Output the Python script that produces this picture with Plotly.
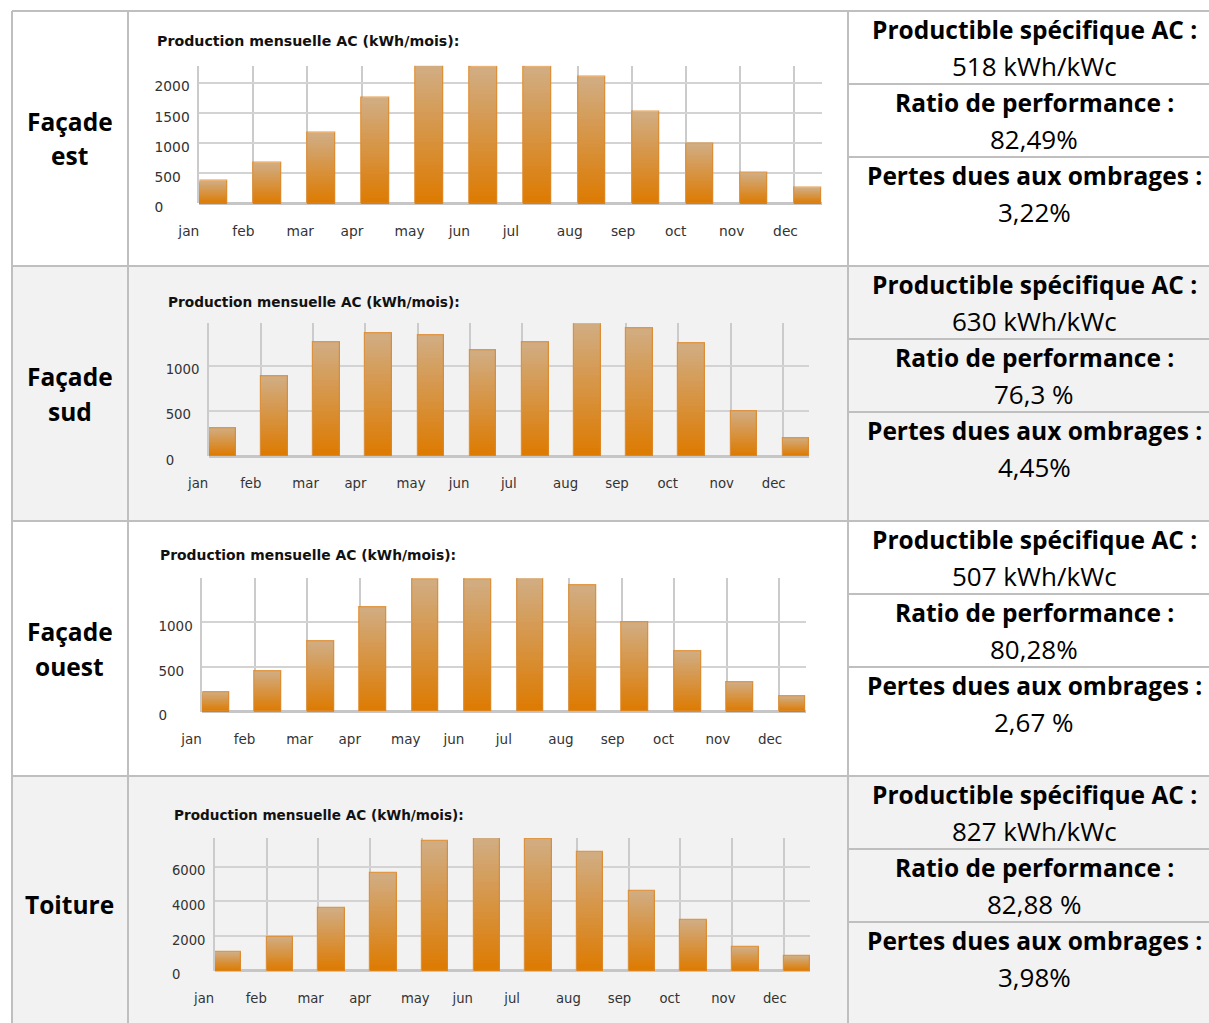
import plotly.graph_objects as go

# Canvas size in pixels
W, H = 1209, 1023

# ---------------------------------------------------------------- data
months = ["jan", "feb", "mar", "apr", "may", "jun",
          "jul", "aug", "sep", "oct", "nov", "dec"]

prod_est = [374, 672, 1169, 1748, 2280, 2257, 2268, 2096, 1523, 993, 507, 258]
prod_sud = [312, 880, 1258, 1358, 1336, 1170, 1258, 1468, 1416, 1244, 500, 199]
prod_ouest = [222, 448, 785, 1170, 1481, 1474, 1489, 1408, 1000, 674, 327, 167]
prod_toiture = [1073, 1954, 3602, 5613, 7471, 7644, 7586, 6820, 4617, 2893, 1341, 824]

yticks_est = [0, 500, 1000, 1500, 2000]
yticks_sud = [0, 500, 1000]
yticks_ouest = [0, 500, 1000]
yticks_toiture = [0, 2000, 4000, 6000]

row_labels = ["Façade<br>est", "Façade<br>sud", "Façade<br>ouest", "Toiture"]
productible = ["518 kWh/kWc", "630 kWh/kWc", "507 kWh/kWc", "827 kWh/kWc"]
ratio_perf = ["82,49%", "76,3 %", "80,28%", "82,88 %"]
pertes_ombrage = ["3,22%", "4,45%", "2,67 %", "3,98%"]

chart_title = "Production mensuelle AC (kWh/mois):"

# ---------------------------------------------------------------- layout geometry (pixels)
ROW_TOPS = [11, 266, 521, 776]
ROW_H = 255
COL_X = [12, 128, 848, 1209]
SHADED = [False, True, False, True]
SUBROW = [73, 146]

# plot boxes: left, right, y of zero line, top of plot, title position, font sizes
charts = [
    dict(vals=prod_est, ticks=yticks_est, left=199.3, right=821.7, zero=203.3, top=65.7,
         tx=155, ty=41.5, tfs=14.2, fs=13.8),
    dict(vals=prod_sud, ticks=yticks_sud, left=209.0, right=809.3, zero=456.0, top=323.3,
         tx=165.7, ty=301.7, tfs=13.7, fs=13.3),
    dict(vals=prod_ouest, ticks=yticks_ouest, left=202.3, right=805.7, zero=711.7, top=578.3,
         tx=158.3, ty=555.0, tfs=13.9, fs=13.5),
    dict(vals=prod_toiture, ticks=yticks_toiture, left=215.0, right=810.3, zero=970.7, top=838.0,
         tx=172.3, ty=815.0, tfs=13.6, fs=13.2),
]

BAR_W = 0.51
N_GRAD = 36
C_TOP = (209, 173, 131)
C_BOT = (221, 122, 0)
OUTLINE = "rgba(222,136,40,0.85)"
GRID_V = "#cbcbcb"
GRID_H = "#d3d3d3"
ZERO = "#c6c6c6"
BORDER = "#bfbfbf"
SHADE = "#f2f2f2"


def fx(px):
    return px / W


def fy(py):
    return 1 - py / H


def mix(t):
    r, g, b = (round(a + (c - a) * t) for a, c in zip(C_BOT, C_TOP))
    return f"rgb({r},{g},{b})"


fig = go.Figure()
layout = {}
idx = list(range(len(months)))

for n, ch in enumerate(charts, start=1):
    xa, ya = f"x{n}", f"y{n}"
    vals = ch["vals"]
    # vertical gradient: overlay of progressively shorter bars
    for k in range(N_GRAD):
        frac = (N_GRAD - k) / N_GRAD
        tmid = (N_GRAD - k - 0.5) / N_GRAD
        fig.add_trace(go.Bar(
            x=idx, y=[v * frac for v in vals], offset=0, width=BAR_W,
            marker=dict(color=mix(tmid), line=dict(width=0)),
            xaxis=xa, yaxis=ya, hoverinfo="skip", showlegend=False))
    # bar outlines
    fig.add_trace(go.Bar(
        x=idx, y=vals, offset=0, width=BAR_W,
        marker=dict(color="rgba(0,0,0,0)", line=dict(color=OUTLINE, width=1.2)),
        xaxis=xa, yaxis=ya, name="Production", showlegend=False))

    width_digits = len(str(max(ch["ticks"])))
    ytext = [str(t) + "\u2007" * (width_digits - len(str(t))) for t in ch["ticks"]]
    tick_font = dict(family="DejaVu Sans", size=ch["fs"], color="#333333")

    layout[f"xaxis{n}"] = dict(
        domain=[fx(ch["left"]), fx(ch["right"])], anchor=ya, automargin=False,
        range=[0, len(months) - 1 + BAR_W], fixedrange=True,
        tickmode="array", tickvals=idx, ticktext=months,
        ticks="", showgrid=True, gridcolor=GRID_V, gridwidth=1.7,
        zeroline=False, showline=False,
        ticklabelposition="outside right", ticklabelshift=-21,
        ticklabelstandoff=18, tickfont=tick_font)
    layout[f"yaxis{n}"] = dict(
        domain=[fy(ch["zero"]), fy(ch["top"])], anchor=xa, automargin=False,
        range=[0, max(vals)], fixedrange=True,
        tickmode="array", tickvals=ch["ticks"], ticktext=ytext,
        ticks="", showgrid=True, gridcolor=GRID_H, gridwidth=2,
        zeroline=True, zerolinecolor=ZERO, zerolinewidth=2.5,
        showline=True, linecolor=GRID_V, linewidth=1.7,
        ticklabelstandoff=5, ticklabelshift=4, tickfont=tick_font)

# ---------------------------------------------------------------- table shapes
shapes = []
for r, top in enumerate(ROW_TOPS):
    if SHADED[r]:
        shapes.append(dict(type="rect", xref="paper", yref="paper", layer="below",
                           x0=fx(COL_X[0]), x1=fx(COL_X[3]), y0=fy(top + ROW_H), y1=fy(top),
                           fillcolor=SHADE, line=dict(width=0)))


def hline(py, x0, x1):
    shapes.append(dict(type="line", xref="paper", yref="paper", layer="above",
                       x0=fx(x0), x1=fx(x1), y0=fy(py), y1=fy(py),
                       line=dict(color=BORDER, width=2)))


def vline(px, y0, y1):
    shapes.append(dict(type="line", xref="paper", yref="paper", layer="above",
                       x0=fx(px), x1=fx(px), y0=fy(y0), y1=fy(y1),
                       line=dict(color=BORDER, width=2)))


for top in ROW_TOPS:
    hline(top, COL_X[0], COL_X[3])
    for off in SUBROW:
        hline(top + off, COL_X[2], COL_X[3])
for px in COL_X[:3]:
    vline(px, ROW_TOPS[0], H)

# ---------------------------------------------------------------- text
annotations = []
for ch in charts:
    annotations.append(dict(
        text=f"<b>{chart_title}</b>", xref="paper", yref="paper",
        x=fx(ch["tx"]), y=fy(ch["ty"]), xanchor="left", yanchor="middle", showarrow=False,
        font=dict(family="DejaVu Sans", size=ch["tfs"], color="#111111")))

CELL_FONT = "Open Sans"
label_x = 69.5
info_x = 1034
LABEL_GAP = 35
for r, top in enumerate(ROW_TOPS):
    # row label, one annotation per line so the line spacing can be set
    parts = row_labels[r].split("<br>")
    mid = top + ROW_H / 2 + 1
    for i, part in enumerate(parts):
        cy = mid + (i - (len(parts) - 1) / 2) * LABEL_GAP - (1 if len(parts) > 1 else 0)
        annotations.append(dict(
            text=f"<b>{part}</b>", xref="paper", yref="paper",
            x=fx(label_x), y=fy(cy), xanchor="center", yanchor="middle",
            showarrow=False, font=dict(family=CELL_FONT, size=24.5, color="#000000")))
    lines = [
        ("<b>Productible spécifique AC :</b>", 18.5, 24.5),
        (productible[r], 55, 26),
        ("<b>Ratio de performance :</b>", 91.5, 24.5),
        (ratio_perf[r], 128, 26),
        ("<b>Pertes dues aux ombrages :</b>", 164.5, 24.5),
        (pertes_ombrage[r], 201, 26),
    ]
    for txt, dy, size in lines:
        annotations.append(dict(
            text=txt, xref="paper", yref="paper",
            x=fx(info_x), y=fy(top + dy), xanchor="center", yanchor="middle",
            showarrow=False, font=dict(family=CELL_FONT, size=size, color="#000000")))

fig.update_layout(
    width=W, height=H, margin=dict(l=0, r=0, t=0, b=0, pad=0, autoexpand=False),
    paper_bgcolor="white", plot_bgcolor="rgba(0,0,0,0)",
    barmode="overlay", bargap=0, showlegend=False,
    shapes=shapes, annotations=annotations, **layout)

fig.write_html("out.html", config={"displayModeBar": False})
